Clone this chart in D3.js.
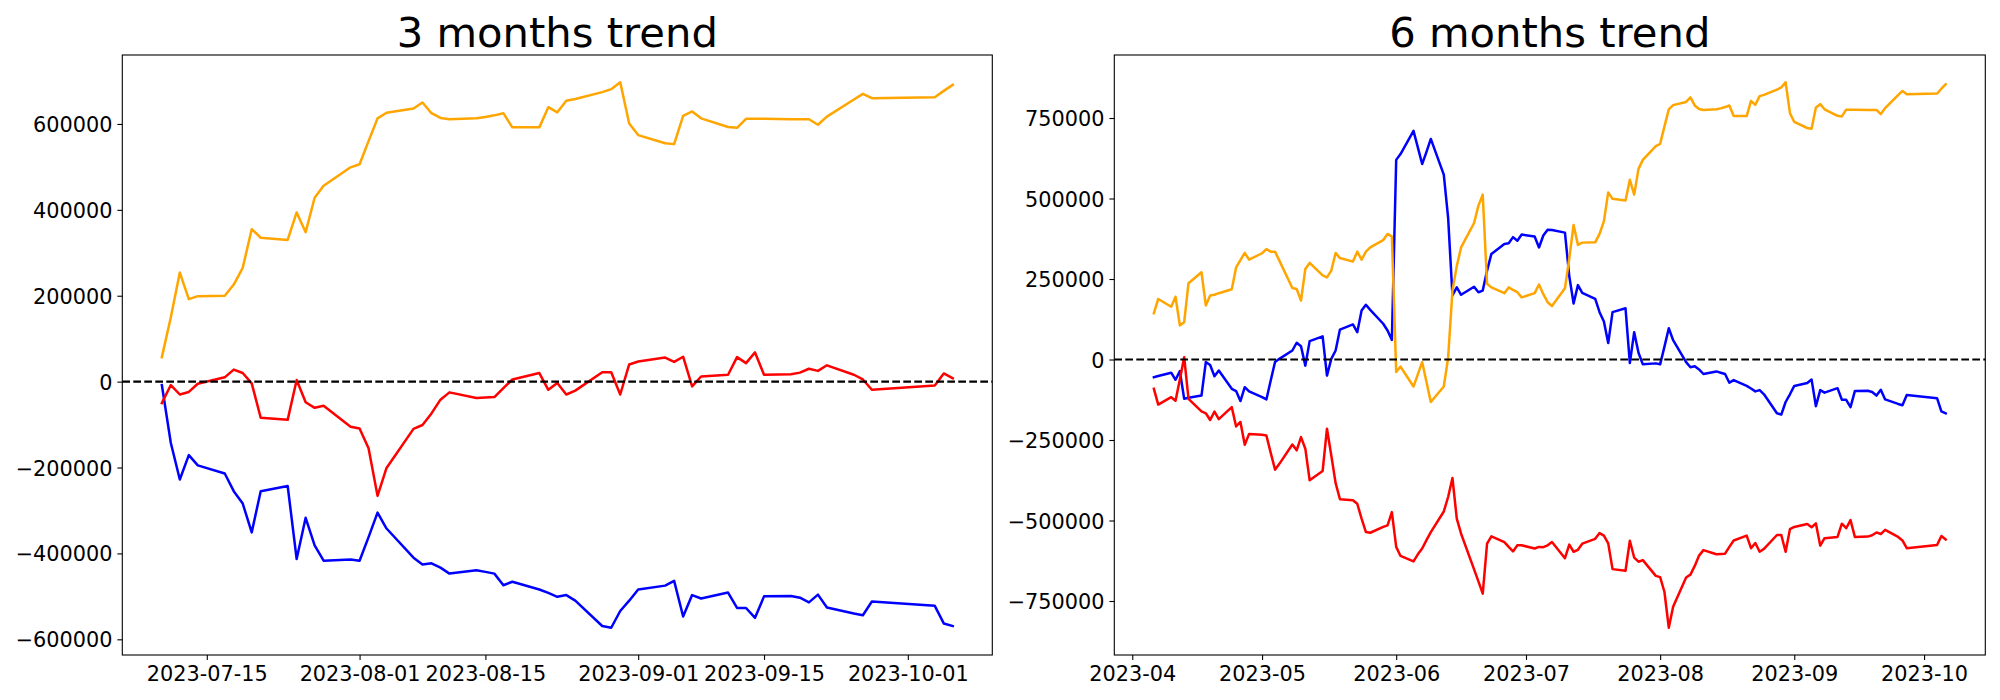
<!DOCTYPE html>
<html><head><meta charset="utf-8">
<script src="https://cdn.jsdelivr.net/npm/d3@7"></script>
<style>body{margin:0;background:#fff;} svg{display:block;}</style>
</head><body><svg id="chart" width="2000" height="700"></svg>
<script>
// ---------- 3 months panel data ----------
const dates3m = [
"2023-07-10","2023-07-11","2023-07-12","2023-07-13","2023-07-14","2023-07-17","2023-07-18","2023-07-19","2023-07-20","2023-07-21","2023-07-24","2023-07-25","2023-07-26","2023-07-27","2023-07-28","2023-07-31",
"2023-08-01","2023-08-02","2023-08-03","2023-08-04","2023-08-07","2023-08-08","2023-08-09","2023-08-10","2023-08-11","2023-08-14","2023-08-15","2023-08-16","2023-08-17","2023-08-18","2023-08-21","2023-08-22","2023-08-23","2023-08-24","2023-08-25","2023-08-28","2023-08-29","2023-08-30","2023-08-31",
"2023-09-01","2023-09-04","2023-09-05","2023-09-06","2023-09-07","2023-09-08","2023-09-11","2023-09-12","2023-09-13","2023-09-14","2023-09-15","2023-09-18","2023-09-19","2023-09-20","2023-09-21","2023-09-22","2023-09-25","2023-09-26","2023-09-27",
"2023-10-04","2023-10-05","2023-10-06"];
const blue3m = [-8000,-143000,-228000,-171000,-195000,-214000,-255000,-284000,-351000,-255000,-243000,-413000,-317000,-381000,-417000,-414000,
-417000,-362000,-305000,-342000,-410000,-426000,-423000,-433000,-447000,-439000,-443000,-447000,-474000,-466000,-484000,-492000,-501000,-497000,-510000,-569000,-573000,-534000,-510000,
-484000,-475000,-464000,-547000,-497000,-505000,-491000,-527000,-527000,-550000,-500000,-499000,-503000,-514000,-496000,-526000,-540000,-544000,-512000,
-522000,-563000,-569000];
const red3m = [-50000,-8000,-30000,-24000,-5000,10000,28000,20000,-4000,-84000,-89000,4000,-48000,-61000,-56000,-105000,
-109000,-155000,-266000,-201000,-110000,-101000,-74000,-42000,-25000,-38000,-37000,-36000,-15000,5000,20000,-19000,-3000,-30000,-21000,22000,22000,-30000,40000,
47000,56000,46000,58000,-11000,12000,16000,57000,43000,68000,16000,17000,21000,30000,25000,38000,16000,5000,-19000,
-9000,19000,8000];
const orange3m = [57000,150000,254000,192000,199000,200000,226000,265000,355000,335000,330000,394000,348000,428000,456000,499000,
506000,560000,613000,626000,636000,650000,625000,614000,611000,613000,616000,620000,625000,592000,592000,639000,627000,654000,658000,674000,681000,697000,601000,
574000,555000,553000,619000,629000,613000,593000,591000,612000,612000,612000,611000,611000,611000,598000,617000,657000,670000,660000,
662000,677000,691000];
const xTicks3m = ["2023-07-15","2023-08-01","2023-08-15","2023-09-01","2023-09-15","2023-10-01"];
const yTicks3m = [-600000,-400000,-200000,0,200000,400000,600000];

// ---------- 6 months panel data ----------
const dates6m = [
"2023-04-06","2023-04-07","2023-04-10","2023-04-11","2023-04-12","2023-04-13","2023-04-14","2023-04-17","2023-04-18","2023-04-19","2023-04-20","2023-04-21","2023-04-24","2023-04-25","2023-04-26","2023-04-27","2023-04-28",
"2023-05-01","2023-05-02","2023-05-03","2023-05-04","2023-05-05","2023-05-08","2023-05-09","2023-05-10","2023-05-11","2023-05-12","2023-05-15","2023-05-16","2023-05-17","2023-05-18","2023-05-19","2023-05-22","2023-05-23","2023-05-24","2023-05-25","2023-05-26","2023-05-29","2023-05-30","2023-05-31",
"2023-06-01","2023-06-02","2023-06-05","2023-06-06","2023-06-07","2023-06-08","2023-06-09","2023-06-12","2023-06-13","2023-06-14","2023-06-15","2023-06-16","2023-06-19","2023-06-20","2023-06-21","2023-06-22","2023-06-23","2023-06-26","2023-06-27","2023-06-28","2023-06-29","2023-06-30",
"2023-07-03","2023-07-04","2023-07-05","2023-07-06","2023-07-07",
"2023-07-10","2023-07-11","2023-07-12","2023-07-13","2023-07-14","2023-07-17","2023-07-18","2023-07-19","2023-07-20","2023-07-21","2023-07-24","2023-07-25","2023-07-26","2023-07-27","2023-07-28","2023-07-31",
"2023-08-01","2023-08-02","2023-08-03","2023-08-04","2023-08-07","2023-08-08","2023-08-09","2023-08-10","2023-08-11","2023-08-14","2023-08-15","2023-08-16","2023-08-17","2023-08-18","2023-08-21","2023-08-22","2023-08-23","2023-08-24","2023-08-25","2023-08-28","2023-08-29","2023-08-30","2023-08-31",
"2023-09-01","2023-09-04","2023-09-05","2023-09-06","2023-09-07","2023-09-08","2023-09-11","2023-09-12","2023-09-13","2023-09-14","2023-09-15","2023-09-18","2023-09-19","2023-09-20","2023-09-21","2023-09-22","2023-09-25","2023-09-26","2023-09-27",
"2023-10-04","2023-10-05","2023-10-06"];
const blue6m = [-55000,-51000,-41000,-63000,-36000,-122000,-119000,-112000,-8000,-17000,-52000,-34000,-91000,-98000,-129000,-86000,-99000,
-117000,-124000,-65000,-8000,2000,28000,52000,41000,-19000,57000,72000,-50000,2000,28000,93000,109000,85000,152000,170000,154000,111000,90000,61000,
620000,638000,710000,659000,607000,645000,685000,574000,441000,199000,224000,201000,226000,209000,214000,276000,328000,359000,361000,380000,369000,388000,
382000,348000,385000,403000,402000,
394000,259000,174000,231000,207000,188000,147000,118000,51000,147000,159000,-11000,85000,21000,-15000,-12000,
-15000,40000,97000,60000,-8000,-24000,-21000,-31000,-45000,-37000,-41000,-45000,-72000,-64000,-82000,-90000,-99000,-95000,-108000,-167000,-171000,-132000,-108000,
-82000,-73000,-62000,-145000,-95000,-103000,-89000,-125000,-125000,-148000,-98000,-97000,-101000,-112000,-94000,-124000,-138000,-142000,-110000,
-120000,-161000,-167000];
const red6m = [-91000,-140000,-117000,-128000,-62000,7000,-122000,-161000,-167000,-188000,-162000,-185000,-148000,-208000,-194000,-265000,-231000,
-234000,-236000,-290000,-342000,-324000,-264000,-282000,-241000,-277000,-375000,-346000,-215000,-298000,-384000,-434000,-437000,-448000,-494000,-536000,-538000,-520000,-515000,-474000,
-582000,-610000,-627000,-605000,-587000,-561000,-536000,-472000,-427000,-368000,-494000,-541000,-652000,-689000,-727000,-572000,-549000,-567000,-582000,-596000,-577000,-577000,
-587000,-582000,-583000,-577000,-567000,
-617000,-575000,-597000,-591000,-572000,-557000,-539000,-547000,-571000,-651000,-656000,-563000,-615000,-628000,-623000,-672000,
-676000,-722000,-833000,-768000,-677000,-668000,-641000,-609000,-592000,-605000,-604000,-603000,-582000,-562000,-547000,-586000,-570000,-597000,-588000,-545000,-545000,-597000,-527000,
-520000,-511000,-521000,-509000,-578000,-555000,-551000,-510000,-524000,-499000,-551000,-550000,-546000,-537000,-542000,-529000,-551000,-562000,-586000,
-576000,-548000,-559000];
const orange6m = [144000,188000,164000,195000,106000,116000,237000,271000,168000,199000,201000,206000,218000,286000,309000,331000,310000,
330000,343000,335000,335000,307000,222000,219000,183000,281000,300000,261000,255000,276000,331000,315000,304000,335000,310000,335000,348000,371000,390000,382000,
-39000,-22000,-84000,-46000,-8000,-70000,-132000,-84000,5000,214000,290000,348000,424000,478000,512000,235000,224000,206000,224000,216000,209000,193000,
206000,233000,203000,178000,166000,
221000,314000,418000,356000,363000,364000,390000,429000,519000,499000,494000,558000,512000,592000,620000,663000,
670000,724000,777000,790000,800000,814000,789000,778000,775000,777000,780000,784000,789000,756000,756000,803000,791000,818000,822000,838000,845000,861000,765000,
738000,719000,717000,783000,793000,777000,757000,755000,776000,776000,776000,775000,775000,775000,762000,781000,821000,834000,824000,
826000,841000,855000];
const xTicks6m = ["2023-04-01","2023-05-01","2023-06-01","2023-07-01","2023-08-01","2023-09-01","2023-10-01"];
const yTicks6m = [-750000,-500000,-250000,0,250000,500000,750000];

const titles = ["3 months trend", "6 months trend"];
const colors = {blue: "#0000ff", red: "#ff0000", orange: "#ffa500"};

const parse = d3.utcParse("%Y-%m-%d");
const svg = d3.select("#chart");
const FONT = "DejaVu Sans, sans-serif";

function drawPanel(p) {
  const dates = p.dates.map(parse);
  const series = [
    {vals: p.blue, color: colors.blue},
    {vals: p.red, color: colors.red},
    {vals: p.orange, color: colors.orange}
  ];
  const tExt = d3.extent(dates);
  const tPad = (tExt[1] - tExt[0]) * 0.05;
  const x = d3.scaleUtc()
    .domain([new Date(+tExt[0] - tPad), new Date(+tExt[1] + tPad)])
    .range([p.x0, p.x1]);
  const allV = series.flatMap(s => s.vals);
  const vMin = d3.min(allV), vMax = d3.max(allV);
  const vPad = (vMax - vMin) * 0.05;
  const y = d3.scaleLinear().domain([vMin - vPad, vMax + vPad]).range([p.y1, p.y0]);

  const g = svg.append("g");
  const line = d3.line().x(d => x(d[0])).y(d => y(d[1]));
  series.forEach(s => {
    g.append("path")
      .datum(dates.map((d, i) => [d, s.vals[i]]))
      .attr("d", line)
      .attr("fill", "none")
      .attr("stroke", s.color)
      .attr("stroke-width", 2.5)
      .attr("stroke-linejoin", "round")
      .attr("stroke-linecap", "square");
  });
  g.append("line")
    .attr("x1", p.x0).attr("x2", p.x1)
    .attr("y1", y(0)).attr("y2", y(0))
    .attr("stroke", "#000").attr("stroke-width", 2.2)
    .attr("stroke-dasharray", "7.7,3.3");

  const xAxis = d3.axisBottom(x)
    .tickValues(p.xTicks.map(parse))
    .tickFormat(d3.utcFormat(p.xFmt))
    .tickSize(4.9).tickSizeOuter(0).tickPadding(6);
  const gx = g.append("g").attr("transform", `translate(0,${p.y1})`).call(xAxis);
  const yAxis = d3.axisLeft(y)
    .tickValues(p.yTicks)
    .tickFormat(d3.format("d"))
    .tickSize(4.9).tickSizeOuter(0).tickPadding(4.9);
  const gy = g.append("g").attr("transform", `translate(${p.x0},0)`).call(yAxis);
  [gx, gy].forEach(a => {
    a.select(".domain").remove();
    a.selectAll(".tick line").attr("stroke", "#000").attr("stroke-width", 1.1);
    a.selectAll(".tick text").attr("fill", "#000")
      .attr("font-family", FONT).attr("font-size", 20.8);
  });
  gy.selectAll(".tick text").attr("dy", "0.36em");

  g.append("rect")
    .attr("x", p.x0).attr("y", p.y0)
    .attr("width", p.x1 - p.x0).attr("height", p.y1 - p.y0)
    .attr("fill", "none").attr("stroke", "#000").attr("stroke-width", 1.1);

  g.append("text")
    .attr("x", (p.x0 + p.x1) / 2).attr("y", p.y0 - 8.5)
    .attr("text-anchor", "middle")
    .attr("font-family", FONT).attr("font-size", 41.7)
    .attr("fill", "#000")
    .text(p.title);
}

drawPanel({dates: dates3m, blue: blue3m, red: red3m, orange: orange3m,
  xTicks: xTicks3m, yTicks: yTicks3m, xFmt: "%Y-%m-%d", title: titles[0],
  x0: 122.3, x1: 992.3, y0: 55, y1: 655});
drawPanel({dates: dates6m, blue: blue6m, red: red6m, orange: orange6m,
  xTicks: xTicks6m, yTicks: yTicks6m, xFmt: "%Y-%m", title: titles[1],
  x0: 1114.3, x1: 1985.3, y0: 55, y1: 655});
</script>
</body></html>
